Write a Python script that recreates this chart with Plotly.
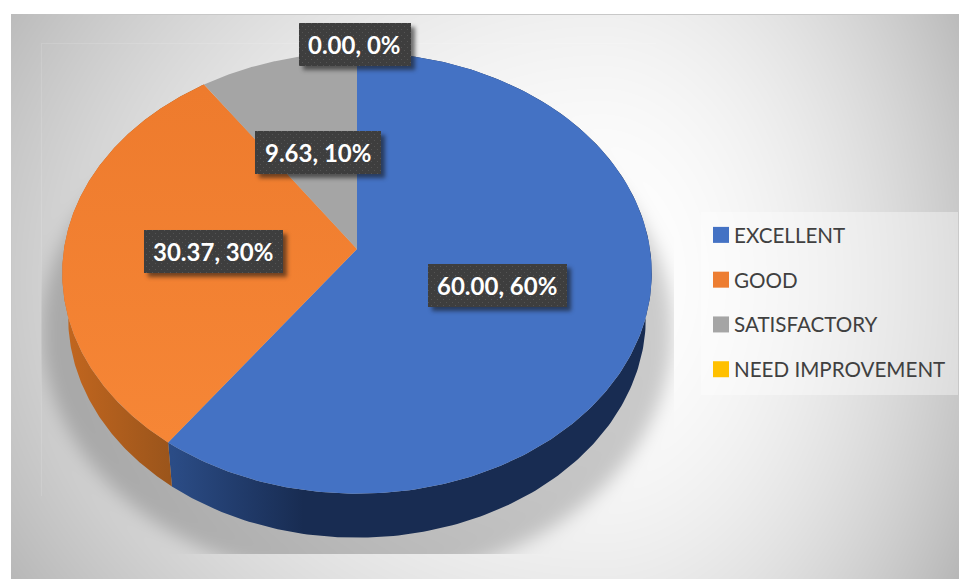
import base64, struct, zlib
import numpy as np
import plotly.graph_objects as go

# ---- data ----
categories = ["EXCELLENT", "GOOD", "SATISFACTORY", "NEED IMPROVEMENT"]
values = [60.00, 30.37, 9.63, 0.00]
percent_labels = ["60%", "30%", "10%", "0%"]
slice_colors = ["#4472C4", "#ED7D31", "#A5A5A5", "#FFC000"]

# ---- layout constants (page pixels) ----
W, H = 959, 579
CX, CY = 357.0, 249.0          # projected centre of the disc
RX, RY, PERSP = 293.0, 218.0, 0.109
DEPTH, BOTTOM_SCALE = 44.0, 0.98
label_centres = [(497, 285), (213, 251), (317.5, 152), (354.5, 44)]
label_w = [138, 138, 125, 111]
label_h = 42
FONT = "Lato"


def project(frac, depth=0.0, scale=1.0):
    """Fraction of the turn (clockwise from 12 o'clock) -> picture coordinates."""
    a = 2 * np.pi * np.asarray(frac)
    u, v = np.sin(a), np.cos(a)
    d = 1 + PERSP * v
    return CX + scale * RX * u / d, CY - RY * v / d + depth


def png_uri(rgba):
    h, w = rgba.shape[:2]
    raw = b"".join(b"\x00" + rgba[i].tobytes() for i in range(h))
    def chunk(t, d):
        return struct.pack(">I", len(d)) + t + d + struct.pack(">I", zlib.crc32(t + d) & 0xffffffff)
    data = (b"\x89PNG\r\n\x1a\n" + chunk(b"IHDR", struct.pack(">IIBBBBB", w, h, 8, 6, 0, 0, 0))
            + chunk(b"IDAT", zlib.compress(raw, 6)) + chunk(b"IEND", b""))
    return "data:image/png;base64," + base64.b64encode(data).decode()


def blur(a, sigma):
    fy = np.fft.fftfreq(a.shape[0])[:, None]
    fx = np.fft.rfftfreq(a.shape[1])[None, :]
    g = np.exp(-2 * (np.pi * sigma) ** 2 * (fx ** 2 + fy ** 2))
    return np.fft.irfft2(np.fft.rfft2(a) * g, s=a.shape)


yy, xx = np.mgrid[0:H, 0:W].astype(float)

# ---- backdrop: panel gradient, plot-area edge, legend plate and the pie's soft shadow ----
dx = np.where(xx < 600, (600 - xx) / 580, (xx - 600) / 350)
dy = np.abs(yy - 280) / 480
r = np.hypot(dx, dy)
grey = 255 - 50 * np.clip(r, 0, 1.25) ** 2.0
inner = (xx >= 41) & (xx <= 673) & (yy >= 43) & (yy <= 553)
mask = (((xx - 357) / 315) ** 2 + ((yy - 330) / 250) ** 2 < 1).astype(float)
shadow = blur(mask, 9) * inner
grey = grey * (1 - 0.2 * shadow)
edge = ((xx == 41) & (yy >= 43) & (yy <= 495)) | ((yy == 43) & (xx >= 41) & (xx <= 655))
grey = np.where(edge, grey + 0.12 * (255 - grey), grey)
legend_plate = (xx >= 701) & (xx <= 957) & (yy >= 212) & (yy <= 394)
grey = np.where(legend_plate, grey + 0.38 * (255 - grey), grey)
panel = (xx >= 11) & (yy >= 14)
grey = np.where(panel, grey, 255)
grey = np.where((yy == 14) & (xx >= 11) | (xx == 11) & (yy >= 14), np.minimum(grey, 200), grey)
bg = np.clip(np.dstack([grey, grey, grey, np.full_like(grey, 255)]), 0, 255).astype(np.uint8)

# ---- label plates: dark dotted boxes with a drop shadow, drawn above the slices ----
plate = np.zeros((H, W), bool)
for (cx, cy), w in zip(label_centres, label_w):
    plate |= (np.abs(xx - cx) <= w / 2) & (np.abs(yy - cy) <= label_h / 2)
sh = blur(np.roll(np.roll(plate.astype(float), 4, axis=0), 4, axis=1), 2.2)
dots = ((xx.astype(int) % 6 == 2) & (yy.astype(int) % 6 == 2)) | ((xx.astype(int) % 6 == 5) & (yy.astype(int) % 6 == 5))
col = np.where(plate & dots, 84.0, 62.0)
col = np.where(plate, col, 20.0)
alpha = np.where(plate, 255.0, np.clip(sh, 0, 1) * 150)
over = np.dstack([col, col, col, alpha]).astype(np.uint8)

fig = go.Figure()

starts = np.concatenate([[0], np.cumsum(values)[:-1]]) / sum(values)
ends = np.cumsum(values) / sum(values)

# side wall first, then the top faces over it
side_gradients = {
    0: dict(type="horizontal", colorscale=[[0, "#2B4C86"], [0.28, "#182C52"], [1, "#182C52"]], start=172, stop=640),
    1: dict(type="horizontal", colorscale=[[0, "#C4671F"], [1, "#99541B"]], start=60, stop=175),
}
for i, (s, e) in enumerate(zip(starts, ends)):
    if i not in side_gradients:
        continue
    t = np.linspace(s, e, 240)
    x1, y1 = project(t)
    x2, y2 = project(t[::-1], DEPTH, BOTTOM_SCALE)
    fig.add_trace(go.Scatter(x=np.r_[x1, x2], y=np.r_[y1, y2], mode="lines", fill="toself",
                             line=dict(width=0), fillcolor=slice_colors[i],
                             fillgradient=side_gradients[i], hoverinfo="skip", showlegend=False))

for i, (s, e) in enumerate(zip(starts, ends)):
    if e - s <= 0:
        continue
    x, y = project(np.linspace(s, e, 240))
    kw = {}
    if i == 1:
        kw = dict(fillgradient=dict(type="vertical", colorscale=[[0, "#EE7B2D"], [1, "#F68636"]],
                                    start=90, stop=440))
    fig.add_trace(go.Scatter(x=np.r_[CX, x, CX], y=np.r_[CY, y, CY], mode="lines", fill="toself",
                             line=dict(width=0), fillcolor=slice_colors[i], name=categories[i],
                             hoverinfo="skip", showlegend=False, **kw))

# legend entries
for name, c in zip(categories, slice_colors):
    fig.add_trace(go.Scatter(x=[None], y=[None], mode="markers", name=name, legendgroup=name,
                             marker=dict(symbol="square", size=16, color=c)))

annotations = [
    dict(x=cx, y=cy, xref="x", yref="y", showarrow=False,
         text=f"<b>{v:.2f}, {p}</b>", font=dict(family=FONT, size=24, color="white"))
    for (cx, cy), v, p in zip(label_centres, values, percent_labels)
]

fig.update_layout(
    width=W, height=H, autosize=False, margin=dict(l=0, r=0, t=0, b=0),
    paper_bgcolor="white", plot_bgcolor="rgba(0,0,0,0)",
    xaxis=dict(range=[0, W], visible=False, fixedrange=True),
    yaxis=dict(range=[H, 0], visible=False, fixedrange=True),
    images=[
        dict(source=png_uri(bg), xref="paper", yref="paper", x=0, y=1, sizex=1, sizey=1,
             sizing="stretch", layer="below", xanchor="left", yanchor="top"),
        dict(source=png_uri(over), xref="paper", yref="paper", x=0, y=1, sizex=1, sizey=1,
             sizing="stretch", layer="above", xanchor="left", yanchor="top"),
    ],
    annotations=annotations,
    legend=dict(x=709 / W, y=1 - 215 / H, xanchor="left", yanchor="top",
                bgcolor="rgba(0,0,0,0)", font=dict(family=FONT, size=20.6, color="#404040"),
                tracegroupgap=15, itemwidth=30, indentation=-15),
    showlegend=True,
)

fig.write_html("out.html", config=dict(displayModeBar=False),
               post_script="document.body.style.margin='0';document.body.style.overflow='hidden';"
                           "document.querySelectorAll('.legendpoints').forEach(function(g){"
                           "g.setAttribute('transform','translate(7,0)');});")
